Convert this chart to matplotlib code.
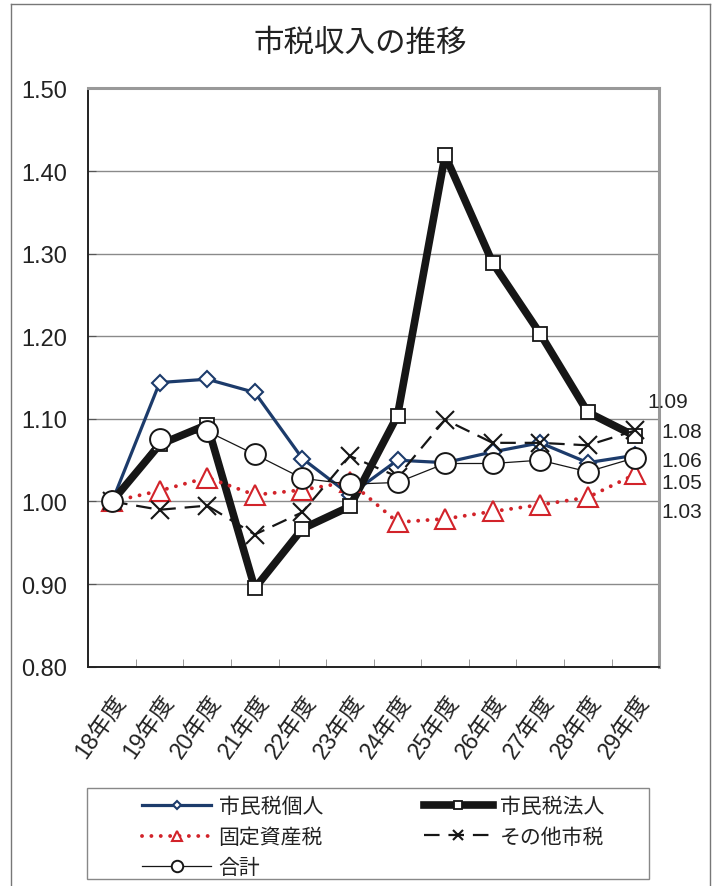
import matplotlib
matplotlib.use("Agg")
import matplotlib.pyplot as plt
import numpy as np
from matplotlib.patches import Rectangle
from matplotlib.lines import Line2D

plt.rcParams['font.family'] = ['Liberation Sans', 'Noto Sans CJK JP']

years = ["18年度", "19年度", "20年度", "21年度", "22年度", "23年度",
         "24年度", "25年度", "26年度", "27年度", "28年度", "29年度"]

kojin = [1.000, 1.144, 1.148, 1.132, 1.052, 1.008, 1.050, 1.047, 1.060, 1.071, 1.047, 1.056]
hojin = [1.000, 1.069, 1.093, 0.895, 0.967, 0.994, 1.104, 1.419, 1.289, 1.203, 1.108, 1.079]
kotei = [1.000, 1.013, 1.029, 1.008, 1.014, 1.024, 0.975, 0.979, 0.988, 0.996, 1.005, 1.033]
sonota = [1.000, 0.990, 0.995, 0.960, 0.987, 1.055, 1.030, 1.099, 1.071, 1.071, 1.068, 1.086]
goukei = [1.000, 1.076, 1.085, 1.057, 1.028, 1.021, 1.023, 1.046, 1.046, 1.050, 1.036, 1.053]

navy = '#1c3b6b'
red = '#d2232a'

fig = plt.figure(figsize=(7.18, 8.87), dpi=100)
ax = fig.add_axes([0.123, 0.2472, 0.795, 0.652])
x = np.arange(len(years))

l1, = ax.plot(x, kojin, color=navy, lw=2.3, marker='D', ms=8, mfc='white',
              mec=navy, mew=1.5, label='市民税個人', zorder=3)
l2, = ax.plot(x, hojin, color='#161616', lw=5.5, marker='s', ms=10, mfc='white',
              mec='#161616', mew=1.3, label='市民税法人', zorder=4)
l3, = ax.plot(x, kotei, color=red, lw=2.8, ls=(0, (0.01, 2.4)), dash_capstyle='round',
              marker='^', ms=14, mfc='white', mec=red, mew=1.5, label='固定資産税', zorder=5)
l4, = ax.plot(x, sonota, color='#161616', lw=1.6, ls=(0, (7, 4)), marker='x', ms=13,
              mew=1.5, mec='#161616', label='その他市税', zorder=6)
l5, = ax.plot(x, goukei, color='#161616', lw=0.9, marker='o', ms=15, mfc='white',
              mec='#161616', mew=1.4, label='合計', zorder=7)

# last-year values written to the right of the plot
ends = [(sonota, 8.6, 21), (hojin, 18.7, 3.4), (kojin, 18.7, -3.8),
        (goukei, 18.7, -18), (kotei, 18.7, -26.9)]
for series, dx, dy in ends:
    ax.annotate(f"{series[-1]:.2f}", xy=(x[-1], series[-1]), xytext=(dx, dy),
                textcoords='offset points', ha='left', va='center',
                fontsize=15, color='#222222', annotation_clip=False, zorder=10)

ax.set_xlim(-0.5, len(years) - 0.5)
ax.set_ylim(0.8, 1.5)
ax.set_yticks(np.arange(0.8, 1.51, 0.1))
ax.set_yticklabels([f"{v:.2f}" for v in np.arange(0.8, 1.51, 0.1)])
ax.yaxis.grid(True, color='#8a8a8a', lw=1.0)
ax.set_axisbelow(True)

ax.set_xticks(x)
ax.set_xticklabels(years, rotation=55, ha='right', va='top', rotation_mode='anchor')
ax.set_xticks(np.arange(-0.5, len(years)), minor=True)
ax.tick_params(axis='x', which='major', length=0, pad=17, labelsize=16.5, labelcolor='#222222')
ax.tick_params(axis='x', which='minor', direction='in', length=6, color='#888888')
ax.tick_params(axis='y', direction='in', length=6, pad=15, labelsize=17,
               labelcolor='#222222', color='#555555')

for s in ('left', 'bottom'):
    ax.spines[s].set_color('#222222')
    ax.spines[s].set_linewidth(1.4)
for s in ('top', 'right'):
    ax.spines[s].set_color('#999999')
    ax.spines[s].set_linewidth(2.2)

fig.text(0.5015, 0.950, '市税収入の推移', ha='center', va='center',
         fontsize=22, color='#222222')

# outer frame (open at the bottom)
fx0, fx1, fy1 = 11 / 718, 710 / 718, 1 - 5 / 887
frame_col = '#777777'
for xs, ys in [([fx0, fx0], [-0.01, fy1]), ([fx0, fx1], [fy1, fy1]), ([fx1, fx1], [fy1, -0.01])]:
    fig.add_artist(Line2D(xs, ys, transform=fig.transFigure, color=frame_col, lw=1.0))

# legend box
fig.add_artist(Rectangle((86.7 / 718, 1 - 880 / 887), (649 - 86.7) / 718, 91 / 887,
                         transform=fig.transFigure, fill=False, ec='#888888', lw=1.0))
fig.legend([l1, l3, l5, l2, l4], ['市民税個人', '固定資産税', '合計', '市民税法人', 'その他市税'],
           ncol=2, loc='upper left', bbox_to_anchor=(143 / 718 - 0.001, 1 - 798 / 887),
           frameon=False, fontsize=15, borderpad=0, borderaxespad=0,
           handlelength=3.3, handletextpad=0.36, columnspacing=4.85,
           labelspacing=0.52, markerscale=0.55, labelcolor='#222222')

fig.savefig('out.png', dpi=100)
